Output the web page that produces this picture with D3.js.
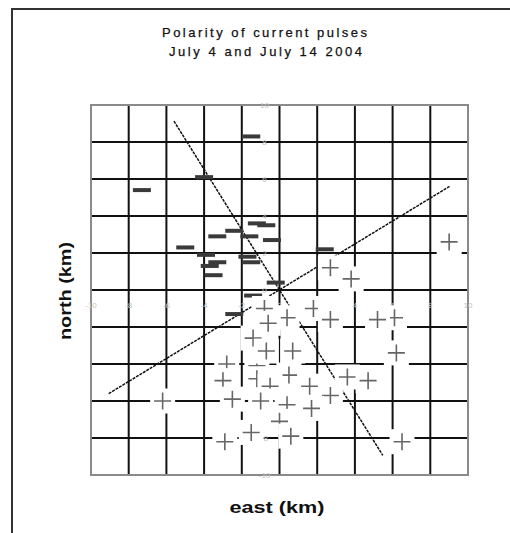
<!DOCTYPE html>
<html><head><meta charset="utf-8">
<script src="https://cdn.jsdelivr.net/npm/d3@7"></script>
<style>body{margin:0;background:#fff}svg{display:block}</style>
</head><body>
<script>
// ---- data ----
const gridTicks = [-10,-8,-6,-4,-2,0,2,4,6,8,10];
const xTickLabels = ["-10","-8","-6","-4","-2","0","2","4","6","8","10"];
const yTickLabels = ["-10","-8","-6","-4","-2","0","2","4","6","8","10"];
// positive pulses (+), in drawing order
const posEast  = [9.0,2.7,3.8,-0.8,1.8,0.4,6.1,2.7,5.2,-0.6,-1.4,-1.2,-0.7,0.7,6.2,-2.8,0.5,3.6,-1.2,4.7,-3.0,-0.5,1.6,2.7,-2.5,-6.2,-1.0,0.4,1.7,0.0,-1.5,0.6,-2.9,6.5];
const posNorth = [2.6,1.2,0.6,-1.0,-1.0,-1.5,-1.5,-1.6,-1.6,-1.8,-2.6,-4.1,-3.3,-3.3,-3.4,-4.0,-4.6,-4.7,-4.8,-4.9,-4.9,-5.2,-5.2,-5.7,-5.9,-6.0,-6.0,-6.2,-6.4,-7.1,-7.7,-7.9,-8.2,-8.2];
// negative pulses (−)
const negEast  = [-1.5,-7.3,-4.0,-1.2,-0.7,-3.3,-2.4,-1.6,-0.4,2.4,-5.0,-3.9,-1.7,-1.5,-3.3,-3.7,-3.5,-0.2,-1.4,-2.4];
const negNorth = [8.3,5.4,6.1,3.6,3.5,2.9,3.2,2.9,2.7,2.2,2.3,1.9,1.8,1.5,1.5,1.3,0.8,0.4,-0.3,-1.3];
// two reference lines
const lineAEast = [-5.6, 5.48], lineANorth = [9.13, -8.94];
const lineBEast = [-9.06, 9.02], lineBNorth = [-5.6, 5.6];
const titleLines = ["Polarity of current pulses", "July 4 and July 14 2004"];
const xTitle = "east (km)", yTitle = "north (km)";

// ---- drawing ----
const W = 510, H = 533;
const svg = d3.select("body").append("svg").attr("width", W).attr("height", H);
const x = d3.scaleLinear().domain([-10,10]).range([91,468]);
const y = d3.scaleLinear().domain([-10,10]).range([475,105]);

// outer frame (only top & left visible)
svg.append("path").attr("d", `M12,${H}V9H${W}`).attr("fill","none").attr("stroke","#333").attr("stroke-width",2);

// titles
const tl = [{t:titleLines[0], cx:264.5, by:37, len:205},{t:titleLines[1], cx:265.5, by:56, len:193}];
svg.selectAll("text.title").data(tl).join("text").attr("class","title")
  .attr("x", d=>d.cx - d.len/2).attr("y", d=>d.by).attr("textLength", d=>d.len)
  .attr("lengthAdjust","spacing")
  .style("font-family","Liberation Sans, Arial, sans-serif").style("font-size","13px").style("fill","#111")
  .style("stroke","#111").style("stroke-width",0.25)
  .text(d=>d.t);

// grid
const g = svg.append("g");
const inner = gridTicks.filter(v=>v>-10 && v<10);
g.selectAll("line.v").data(inner).join("line").attr("class","v")
  .attr("x1",d=>x(d)).attr("x2",d=>x(d)).attr("y1",y(10)).attr("y2",y(-10))
  .attr("stroke","#111").attr("stroke-width",2);
g.selectAll("line.h").data(inner).join("line").attr("class","h")
  .attr("y1",d=>y(d)).attr("y2",d=>y(d)).attr("x1",x(-10)).attr("x2",x(10))
  .attr("stroke","#111").attr("stroke-width",2);
g.append("rect").attr("x",x(-10)).attr("y",y(10)).attr("width",x(10)-x(-10)).attr("height",y(-10)-y(10))
  .attr("fill","none").attr("stroke","#8a8a8a").attr("stroke-width",2);

// faint tick labels
const lab = svg.append("g").style("font-family","Liberation Sans, Arial, sans-serif").style("font-size","8px").style("fill","#c4c4c4");
lab.selectAll("text.xl").data(gridTicks).join("text").attr("class","xl")
  .attr("x",d=>x(d)).attr("y",y(0)+18).attr("text-anchor","middle").text((d,i)=>xTickLabels[i]);
lab.selectAll("text.yl").data(gridTicks).join("text").attr("class","yl")
  .attr("x",x(0)-15).attr("y",d=>y(d)+3).attr("text-anchor","middle").text((d,i)=>yTickLabels[i]);

// reference lines
const lineGen = d3.line().x(d=>x(d[0])).y(d=>y(d[1]));
[[lineAEast,lineANorth],[lineBEast,lineBNorth]].forEach(([e,n])=>{
  svg.append("path").attr("d", lineGen(e.map((v,i)=>[v,n[i]])))
    .attr("fill","none").attr("stroke","#111").attr("stroke-width",1.5).attr("stroke-dasharray","3,1");
});

// negative markers
svg.selectAll("rect.neg").data(negEast.map((v,i)=>[v,negNorth[i]])).join("rect").attr("class","neg")
  .attr("x",d=>x(d[0])-9).attr("y",d=>y(d[1])-2).attr("width",18).attr("height",4)
  .attr("fill","#3a3a3a");

// positive markers with white halo
const pos = svg.selectAll("g.pos").data(posEast.map((v,i)=>[v,posNorth[i]])).join("g").attr("class","pos")
  .attr("transform",d=>`translate(${x(d[0])},${y(d[1])})`);
pos.append("rect").attr("x",-12.5).attr("y",-12.5).attr("width",25).attr("height",25).attr("fill","#fff");
pos.append("path").attr("d","M-8.5,0H8.5M0,-8.5V8.5").attr("stroke","#666").attr("stroke-width",1.6).attr("fill","none");

// axis titles
svg.append("text").attr("x",277-47.5).attr("y",513).attr("textLength",95).attr("lengthAdjust","spacingAndGlyphs")
  .style("font-family","Liberation Sans, Arial, sans-serif").style("font-size","17px").style("font-weight","bold").style("fill","#111")
  .text(xTitle);
svg.append("text").attr("transform","translate(71,291) rotate(-90)").attr("x",-49).attr("y",0)
  .attr("textLength",98).attr("lengthAdjust","spacingAndGlyphs")
  .style("font-family","Liberation Sans, Arial, sans-serif").style("font-size","17px").style("font-weight","bold").style("fill","#111")
  .text(yTitle);
</script>
</body></html>
